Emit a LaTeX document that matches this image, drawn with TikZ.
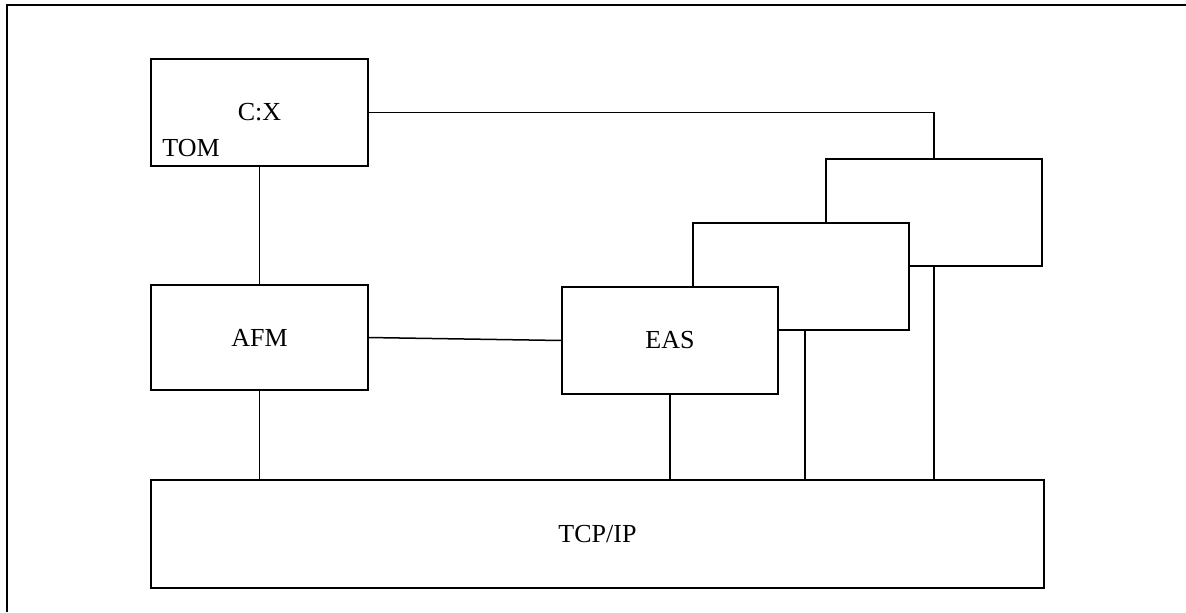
\documentclass[tikz,border=0pt]{standalone}
\usepackage{fontspec}
\setmainfont{Liberation Serif}

\begin{document}
\begin{tikzpicture}[x=0.5pt,y=-0.5pt,
		module/.style={draw, fill=white, line width=0.75pt, inner sep=0pt, outer sep=0pt,
			minimum width=108pt, minimum height=53.5pt, font=\fontsize{13}{15}\selectfont},
		link/.style={line width=0.75pt}]
	\useasboundingbox (0,0) rectangle (1186,612);
	\draw[line width=1pt] (7,612) -- (7,5) -- (1186,5);

	\node[module, minimum width=108.5pt] (cx) at (259.5,112.5) {\raisebox{-1pt}{C:X}};
	\node[anchor=base west, inner sep=0pt, font=\fontsize{13}{15}\selectfont] (tom) at (162,156) {TOM};
	\node[module, minimum width=108.5pt, minimum height=52.5pt] (afm) at (259.5,337.5) {AFM};
	\node[module] (eas3) at (934,212.5) {};
	\node[module] (eas2) at (801,276.5) {};
	\node[module] (eas) at (670,340.5) {EAS};
	\node[module, minimum width=446.5pt, minimum height=54pt] (tcp) at (597.5,534) {TCP/IP};

	\draw[link] (cx.south) -- (afm.north);
	\draw[link] (cx.east) -| (eas3.north);
	\draw[link] (afm.east) -- (eas.west);
	\draw[link] (afm.south) -- (afm.south |- tcp.north);
	\draw[link] (eas.south) -- (eas.south |- tcp.north);
	\draw[link] ([xshift=2pt]eas2.south) -- ([xshift=2pt]eas2.south |- tcp.north);
	\draw[link] (eas3.south) -- (eas3.south |- tcp.north);
\end{tikzpicture}
\end{document}
